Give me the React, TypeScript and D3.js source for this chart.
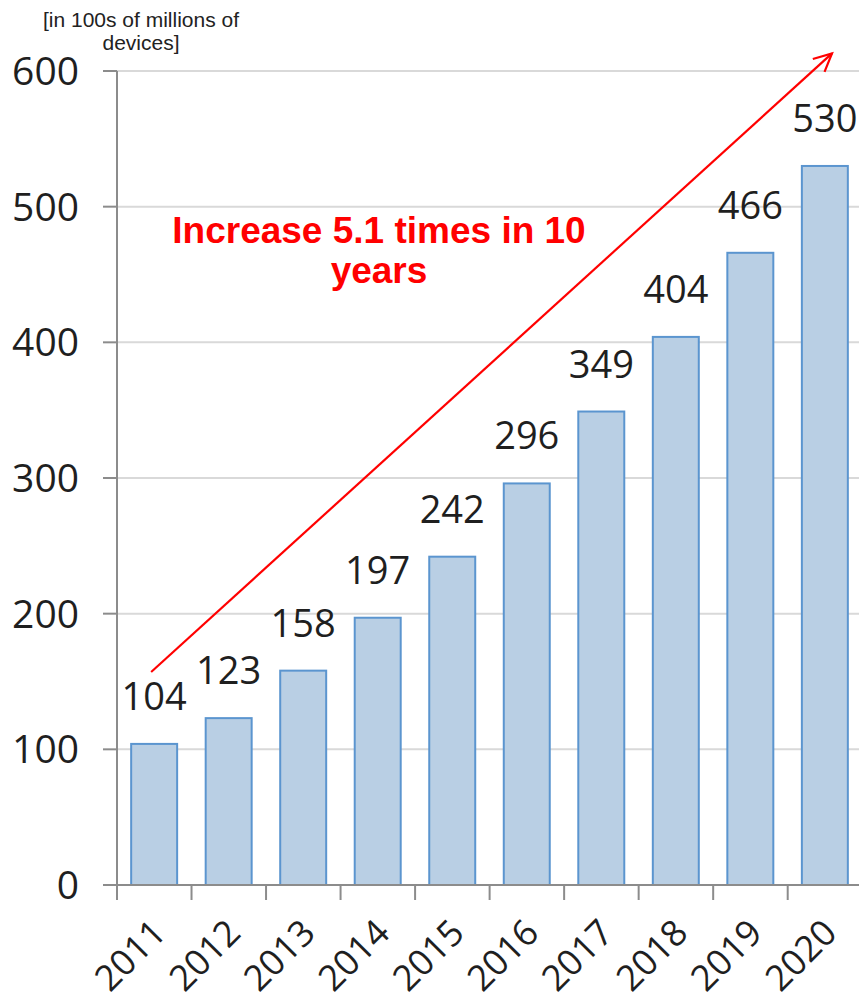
import React from "react";
import * as d3 from "d3";

// Connected devices per year, in hundreds of millions
const years = ["2011", "2012", "2013", "2014", "2015", "2016", "2017", "2018", "2019", "2020"];
const devices = [104, 123, 158, 197, 242, 296, 349, 404, 466, 530];
const yTicks = [0, 100, 200, 300, 400, 500, 600];
const unitLines = ["[in 100s of millions of", "devices]"];
const growthLines = ["Increase 5.1 times in 10", "years"];
// Trend arrow endpoints expressed in data values
const arrowFromValue = 157;
const arrowToValue = 613;

const W = 859;
const H = 1003;
const plotLeft = 117;
const plotRight = 862;
const plotTop = 71;
const plotBottom = 885;

const numFont = "'Open Sans', 'DejaVu Sans', sans-serif";
const arialFont = "'Liberation Sans', Arial, sans-serif";

export default function App() {
  const x = d3.scaleBand<string>().domain(years).range([plotLeft, plotRight]).paddingInner(0.383).paddingOuter(0.19);
  const y = d3.scaleLinear().domain([0, 600]).range([plotBottom, plotTop]);
  const step = x.step();
  const bw = x.bandwidth();
  const cx = (yr: string) => (x(yr) as number) + bw / 2;

  const ax0 = cx(years[0]) - 3;
  const ay0 = y(arrowFromValue);
  const ax1 = plotRight - 30;
  const ay1 = y(arrowToValue);
  const ang = Math.atan2(ay1 - ay0, ax1 - ax0);
  const headLen = 20;
  const headSpread = 0.45;
  const head = [ang + Math.PI - headSpread, ang + Math.PI + headSpread].map((a) => [
    ax1 + headLen * Math.cos(a),
    ay1 + headLen * Math.sin(a),
  ]);

  return (
    <svg width={W} height={H} style={{ position: "absolute", left: 0, top: 0, background: "#fff" }}>
      {/* horizontal gridlines */}
      {yTicks.slice(1).map((t) => (
        <line key={"g" + t} x1={plotLeft} x2={W} y1={y(t)} y2={y(t)} stroke="#d9d9d9" strokeWidth={2} />
      ))}

      {/* bars */}
      {years.map((yr, i) => (
        <rect
          key={yr}
          x={x(yr)}
          y={y(devices[i])}
          width={bw}
          height={plotBottom - y(devices[i])}
          fill="#b9cfe4"
          stroke="#5b95cf"
          strokeWidth={2}
        />
      ))}

      {/* y axis */}
      <line x1={plotLeft} x2={plotLeft} y1={plotTop} y2={plotBottom} stroke="#8c8c8c" strokeWidth={2} />
      {yTicks.map((t) => (
        <g key={"yt" + t}>
          <line x1={plotLeft - 14} x2={plotLeft} y1={y(t)} y2={y(t)} stroke="#8c8c8c" strokeWidth={2} />
          <text
            x={79}
            y={y(t) + 14}
            textAnchor="end"
            fontFamily={numFont}
            fontSize={39}
            fill="#1f1f1f"
          >
            {t}
          </text>
        </g>
      ))}

      {/* x axis */}
      <line x1={plotLeft} x2={W} y1={plotBottom} y2={plotBottom} stroke="#8c8c8c" strokeWidth={2} />
      {years.map((yr, i) => (
        <line
          key={"xt" + yr}
          x1={plotLeft + i * step}
          x2={plotLeft + i * step}
          y1={plotBottom}
          y2={plotBottom + 15}
          stroke="#8c8c8c"
          strokeWidth={2}
        />
      ))}
      {years.map((yr) => (
        <text
          key={"xl" + yr}
          transform={`translate(${cx(yr) + 14},${plotBottom + 50}) rotate(-45)`}
          textAnchor="end"
          fontFamily={numFont}
          fontSize={36}
          fill="#1f1f1f"
        >
          {yr}
        </text>
      ))}

      {/* value labels */}
      {years.map((yr, i) => (
        <text
          key={"v" + yr}
          x={cx(yr)}
          y={y(devices[i]) - 34}
          textAnchor="middle"
          fontFamily={numFont}
          fontSize={38}
          fill="#1f1f1f"
        >
          {devices[i]}
        </text>
      ))}

      {/* unit note */}
      {unitLines.map((s, i) => (
        <text key={"u" + i} x={141} y={27 + i * 23} textAnchor="middle" fontFamily={arialFont} fontSize={21} fill="#222">
          {s}
        </text>
      ))}

      {/* growth arrow */}
      <line x1={ax0} y1={ay0} x2={ax1} y2={ay1} stroke="#ff0000" strokeWidth={2.2} />
      <polyline
        points={`${head[0][0]},${head[0][1]} ${ax1},${ay1} ${head[1][0]},${head[1][1]}`}
        fill="none"
        stroke="#ff0000"
        strokeWidth={2.2}
      />
      {growthLines.map((s, i) => (
        <text
          key={"a" + i}
          x={379}
          y={243 + i * 40}
          textAnchor="middle"
          fontFamily={arialFont}
          fontWeight="bold"
          fontSize={37}
          fill="#ff0000"
        >
          {s}
        </text>
      ))}
    </svg>
  );
}
